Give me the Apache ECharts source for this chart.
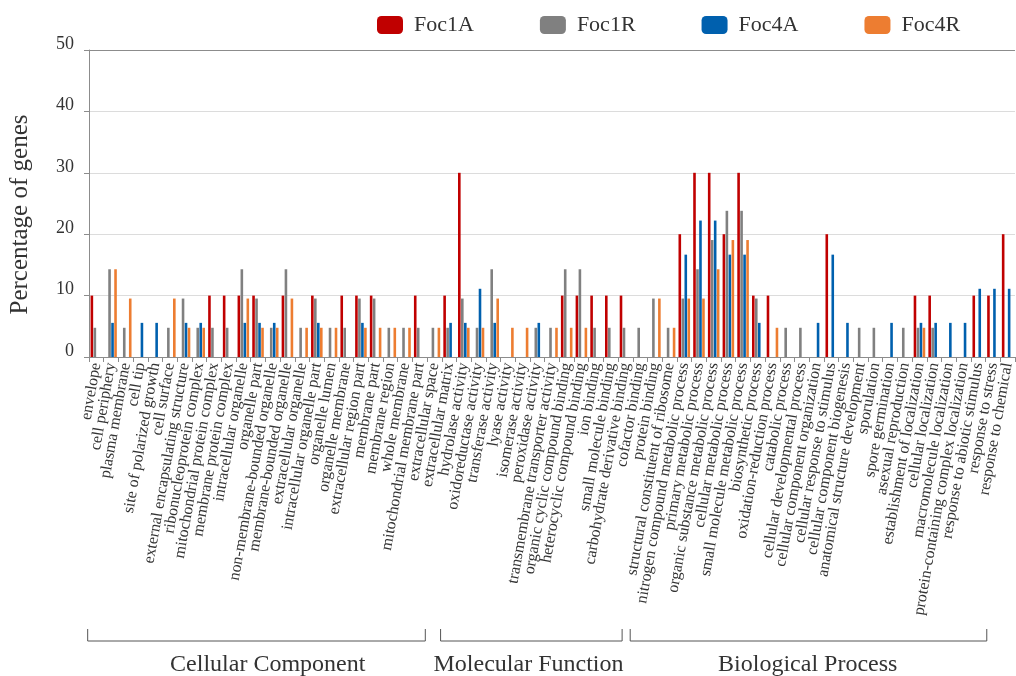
<!DOCTYPE html>
<html>
<head>
<meta charset="utf-8">
<script src="https://cdn.jsdelivr.net/npm/echarts/dist/echarts.min.js"></script>
<style>
  html, body { margin: 0; padding: 0; background: #fff; }
  #main { width: 1016px; height: 676px; }
</style>
</head>
<body>
<div id="main"></div>
<script>
const categories = [
  'envelope', 'cell periphery', 'plasma membrane', 'cell tip', 'site of polarized growth',
  'cell surface', 'external encapsulating structure', 'ribonucleoprotein complex',
  'mitochondrial protein complex', 'membrane protein complex', 'intracellular organelle',
  'organelle part', 'non-membrane-bounded organelle', 'membrane-bounded organelle',
  'extracellular organelle', 'intracellular organelle part', 'organelle lumen',
  'organelle membrane', 'extracellular region part', 'membrane part', 'membrane region',
  'whole membrane', 'mitochondrial membrane part', 'extracellular space', 'extracellular matrix',
  'hydrolase activity', 'oxidoreductase activity', 'transferase activity', 'lyase activity',
  'isomerase activity', 'peroxidase activity', 'transmembrane transporter activity',
  'organic cyclic compound binding', 'heterocyclic compound binding', 'ion binding',
  'small molecule binding', 'carbohydrate derivative binding', 'cofactor binding',
  'protein binding', 'structural constituent of ribosome',
  'nitrogen compound metabolic process', 'primary metabolic process',
  'organic substance metabolic process', 'cellular metabolic process',
  'small molecule metabolic process', 'biosynthetic process', 'oxidation-reduction process',
  'catabolic process', 'cellular developmental process', 'cellular component organization',
  'cellular response to stimulus', 'cellular component biogenesis',
  'anatomical structure development', 'sporulation', 'spore germination',
  'asexual reproduction', 'establishment of localization', 'cellular localization',
  'macromolecule localization', 'protein-containing complex localization',
  'response to abiotic stimulus', 'response to stress', 'response to chemical'
]

const foc1A = [
  10, 0, 0, 0, 0, 0, 0, 0, 10, 10, 10, 10, 0, 10, 0, 10, 0, 10, 10, 10, 0, 0, 10, 0, 10,
  30, 0, 0, 0, 0, 0, 0, 10, 10, 10, 10, 10, 0, 0, 0,
  20, 30, 30, 20, 30, 10, 10, 0, 0, 0, 20, 0, 0, 0, 0, 0, 10, 10, 0, 0, 10, 10, 20
]
const foc1R = [
  4.76, 14.29, 4.76, 0, 0, 4.76, 9.52, 4.76, 4.76, 4.76, 14.29, 9.52, 4.76, 14.29, 4.76,
  9.52, 4.76, 4.76, 9.52, 9.52, 4.76, 4.76, 4.76, 4.76, 4.76,
  9.52, 4.76, 14.29, 0, 0, 4.76, 4.76, 14.29, 14.29, 4.76, 4.76, 4.76, 4.76, 9.52, 4.76,
  9.52, 14.29, 19.05, 23.81, 23.81, 9.52, 0, 4.76, 4.76, 0, 0, 0, 4.76, 4.76, 0, 4.76,
  4.76, 4.76, 0, 0, 0, 0, 0
]
const foc4A = [
  0, 5.56, 0, 5.56, 5.56, 0, 5.56, 5.56, 0, 0, 5.56, 5.56, 5.56, 0, 0, 5.56, 0, 0, 5.56,
  0, 0, 0, 0, 0, 5.56,
  5.56, 11.11, 5.56, 0, 0, 5.56, 0, 0, 0, 0, 0, 0, 0, 0, 0,
  16.67, 22.22, 22.22, 16.67, 16.67, 5.56, 0, 0, 0, 5.56, 16.67, 5.56, 0, 0, 5.56, 0,
  5.56, 5.56, 5.56, 5.56, 11.11, 11.11, 11.11
]
const foc4R = [
  0, 14.29, 9.52, 0, 0, 9.52, 4.76, 4.76, 0, 0, 9.52, 4.76, 4.76, 9.52, 4.76, 4.76, 4.76,
  0, 4.76, 4.76, 4.76, 4.76, 0, 4.76, 0,
  4.76, 4.76, 9.52, 4.76, 4.76, 0, 4.76, 4.76, 4.76, 0, 0, 0, 0, 9.52, 4.76,
  9.52, 9.52, 14.29, 19.05, 19.05, 0, 4.76, 0, 0, 0, 0, 0, 0, 0, 0, 0,
  4.76, 0, 0, 0, 0, 0, 0
]
const seriesNames = ['Foc1A', 'Foc1R', 'Foc4A', 'Foc4R']
const seriesColors = ['#c00000', '#808080', '#0060ae', '#ed7d31']
const groupNames = ['Cellular Component', 'Molecular Function', 'Biological Process']

const font = 'Liberation Serif'
const seriesData = [foc1A, foc1R, foc4A, foc4R]

const option = {
  animation: false,
  color: seriesColors,
  textStyle: { fontFamily: font },
  legend: {
    data: seriesNames,
    left: 372,
    top: 9,
    itemWidth: 26,
    itemHeight: 18,
    itemGap: 66,
    icon: 'roundRect',
    textStyle: { fontFamily: font, fontSize: 22, color: '#333', padding: [0, 0, 0, 6] }
  },
  grid: { left: 88, top: 50, width: 932, height: 307 },
  xAxis: {
    type: 'category',
    data: categories,
    axisLine: { lineStyle: { color: '#8c8c8c' } },
    axisTick: { show: true, length: 5, lineStyle: { color: '#8c8c8c' } },
    axisLabel: {
      interval: 0,
      rotate: 80,
      margin: 6,
      fontFamily: font,
      fontSize: 16,
      color: '#333'
    }
  },
  yAxis: {
    type: 'value',
    min: 0,
    max: 50,
    interval: 10,
    name: 'Percentage of genes',
    nameLocation: 'middle',
    nameGap: 56,
    nameTextStyle: { fontFamily: font, fontSize: 25, color: '#333', padding: [0, 22, 0, 0] },
    axisLine: { show: true, lineStyle: { color: '#8c8c8c' } },
    axisTick: { show: true, length: 5, lineStyle: { color: '#8c8c8c' } },
    axisLabel: {
      fontFamily: font,
      fontSize: 18,
      color: '#333',
      margin: 15,
      verticalAlign: 'bottom',
      lineHeight: 12
    },
    splitLine: {
      lineStyle: { color: ['#dcdcdc', '#dcdcdc', '#dcdcdc', '#dcdcdc', '#dcdcdc', '#8c8c8c'] }
    }
  },
  series: seriesNames.map((name, i) => ({
    name: name,
    type: 'bar',
    data: seriesData[i],
    barWidth: 2.6,
    barGap: '15%',
    itemStyle: { color: seriesColors[i] }
  }))
}

const chart = echarts.init(document.getElementById('main'))
chart.setOption(option)

// brackets under the category labels, placed in category units along the x axis
const c0 = chart.convertToPixel({ xAxisIndex: 0 }, 0)
const band = chart.convertToPixel({ xAxisIndex: 0 }, 1) - c0
const edge = b => c0 - band / 2 + b * band
const spans = [[-0.09, 22.88, 12.16], [23.92, 36.27, 29.9], [36.82, 61.08, 48.9]]
const lineY = 641
const graphic = []
spans.forEach((s, i) => {
  const x1 = edge(s[0])
  const x2 = edge(s[1])
  graphic.push({
    type: 'polyline',
    shape: { points: [[x1, lineY - 12], [x1, lineY], [x2, lineY], [x2, lineY - 12]] },
    style: { stroke: '#555', lineWidth: 1, fill: null }
  })
  graphic.push({
    type: 'text',
    x: edge(s[2]),
    y: 665,
    style: {
      text: groupNames[i],
      font: '24px "' + font + '"',
      fill: '#333',
      align: 'center',
      verticalAlign: 'middle'
    }
  })
})
chart.setOption({ graphic: graphic })
</script>
</body>
</html>
